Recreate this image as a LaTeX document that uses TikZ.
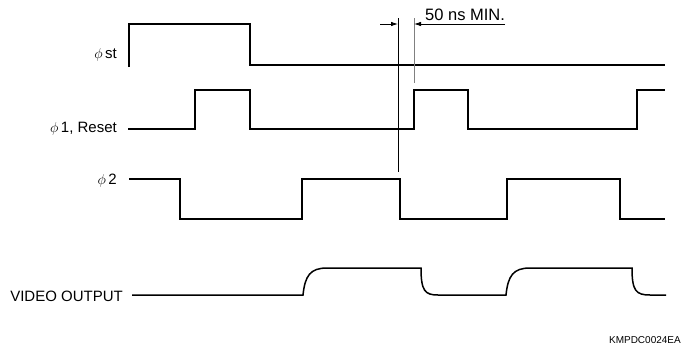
\documentclass[tikz,border=0pt]{standalone}
\usepackage{fontspec}
\setmainfont{Liberation Sans}
\usetikzlibrary{arrows.meta}
\begin{document}
\begin{tikzpicture}[x=1pt,y=-1pt,
  sig/.style={line width=1.5pt,line join=miter},
  mark line/.style={line width=0.8pt},
  lbl/.style={font=\fontsize{15}{17}\selectfont,inner sep=0pt},
  dimarrow/.style={line width=0.8pt,-{Latex[length=7pt,width=4.5pt]}}]
\useasboundingbox (0,0) rectangle (683,348);
% labels
\node[lbl,anchor=east] (lst) at (117,55) {$\phi$\,st};
\node[lbl,anchor=east] (l1) at (117,129) {$\phi$\,1, Reset};
\node[lbl,anchor=east] (l2) at (117,181) {$\phi$\,2};
\node[lbl,anchor=east] (lv) at (123,296) {VIDEO OUTPUT};
\node[font=\fontsize{10}{12}\selectfont,inner sep=0pt,anchor=east] (code) at (681,340) {KMPDC0024EA};
\node[font=\fontsize{16.5}{18}\selectfont,inner sep=0pt,anchor=base west] (ns) at (425,20) {50 ns MIN.};
% phi st
\draw[sig] (129,67) -- (129,24) -- (250,24) -- (250,65) -- (665,65);
% phi 1
\draw[sig] (128,129) -- (195,129) -- (195,90) -- (250,90) -- (250,129) -- (414,129) -- (414,90) -- (468,90) -- (468,129) -- (637,129) -- (637,90) -- (665,90);
% phi 2
\draw[sig] (129,179) -- (180,179) -- (180,219) -- (302,219) -- (302,179) -- (400,179) -- (400,219) -- (507,219) -- (507,179) -- (620,179) -- (620,219) -- (665,219);
% video output
\draw[sig] (132,295) -- (303,295) .. controls (305,276) and (310,268) .. (327,268) -- (421,268)
  .. controls (421,291) and (425,295) .. (438,295) -- (506,295)
  .. controls (508,276) and (513,268) .. (530,268) -- (632,268)
  .. controls (632,291) and (636,295) .. (650,295) -- (666,295);
% timing markers
\coordinate (m1t) at (398,18);
\coordinate (m1b) at (398,172);
\coordinate (m2t) at (414,18);
\coordinate (m2b) at (414,83);
\draw[mark line] (m1t) -- (m1b);
\draw[mark line,gray] (m2t) -- (m2b);
\coordinate (a1s) at (380,24);
\coordinate (a1e) at (398,24);
\coordinate (a2e) at (414,24);
\draw[dimarrow] (a1s) -- (a1e);
\draw[dimarrow] (ns.base east |- a2e) -- (a2e);
\end{tikzpicture}
\end{document}
